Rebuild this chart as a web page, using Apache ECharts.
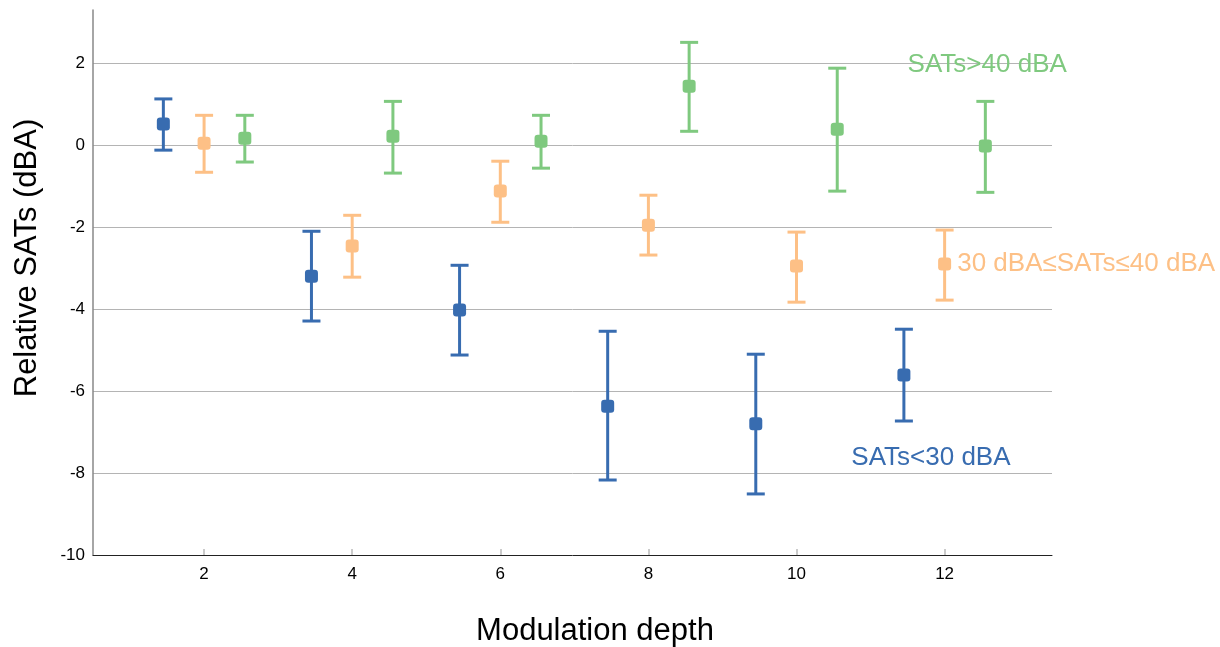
<!DOCTYPE html>
<html>
<head>
<meta charset="utf-8">
<style>
  html, body { margin: 0; padding: 0; background: #fff; }
  #chart { width: 1220px; height: 647px; }
</style>
<script src="https://cdn.jsdelivr.net/npm/echarts@6/dist/echarts.min.js"></script>
</head>
<body>
<div id="chart"></div>
<script>
// Modulation depths tested
const depths = [2, 4, 6, 8, 10, 12];
const depthTicks = [2, 4, 6, 8, 10, 12];

// SATs < 30 dBA: mean and interval bounds (dBA)
const lowMean  = [0.52, -3.20, -4.02, -6.37, -6.80, -5.61];
const lowLower = [-0.12, -4.29, -5.12, -8.17, -8.51, -6.73];
const lowUpper = [1.13, -2.10, -2.93, -4.54, -5.10, -4.49];

// 30 dBA <= SATs <= 40 dBA
const midMean  = [0.05, -2.46, -1.12, -1.95, -2.95, -2.90];
const midLower = [-0.66, -3.22, -1.88, -2.68, -3.83, -3.78];
const midUpper = [0.73, -1.71, -0.39, -1.22, -2.12, -2.07];

// SATs > 40 dBA
const highMean  = [0.17, 0.22, 0.10, 1.44, 0.39, -0.02];
const highLower = [-0.41, -0.68, -0.56, 0.34, -1.12, -1.15];
const highUpper = [0.73, 1.07, 0.73, 2.51, 1.88, 1.07];

// Group names and where their labels sit (data coordinates)
const groupNames = ['SATs<30 dBA', '30 dBA\u2264SATs\u226440 dBA', 'SATs>40 dBA'];
const labelAnchors = [[10.74, -7.62], [12.17, -2.90], [11.50, 1.96]];

const xTitle = 'Modulation depth';
const yTitle = 'Relative SATs (dBA)';

const colors = ['#386cb0', '#fdc086', '#7fc97f'];
const groupShift = [-0.55, 0, 0.55];
const FONT = '"Liberation Sans", Arial, sans-serif';

const groups = [
  { mean: lowMean, lower: lowLower, upper: lowUpper },
  { mean: midMean, lower: midLower, upper: midUpper },
  { mean: highMean, lower: highLower, upper: highUpper }
];

const series = [];
groups.forEach((g, gi) => {
  const xs = depths.map(d => d + groupShift[gi]);
  // whiskers with caps
  series.push({
    type: 'custom',
    name: groupNames[gi] + ' range',
    data: xs.map((x, i) => [x, g.lower[i], g.upper[i]]),
    encode: { x: 0, y: [1, 2] },
    z: 2,
    renderItem: function (params, api) {
      const x = api.value(0);
      const lo = api.coord([x, api.value(1)]);
      const hi = api.coord([x, api.value(2)]);
      const half = 9;
      const style = { stroke: colors[gi], lineWidth: 3, fill: null };
      return {
        type: 'group',
        children: [
          { type: 'line', shape: { x1: hi[0], y1: hi[1], x2: lo[0], y2: lo[1] }, style: style },
          { type: 'line', shape: { x1: hi[0] - half, y1: hi[1], x2: hi[0] + half, y2: hi[1] }, style: style },
          { type: 'line', shape: { x1: lo[0] - half, y1: lo[1], x2: lo[0] + half, y2: lo[1] }, style: style }
        ]
      };
    }
  });
  // mean markers, plus the group name
  series.push({
    type: 'scatter',
    name: groupNames[gi],
    data: xs.map((x, i) => [x, g.mean[i]]),
    symbol: 'roundRect',
    symbolSize: 13,
    itemStyle: { color: colors[gi], opacity: 1 },
    z: 3,
    markPoint: {
      symbol: 'circle',
      symbolSize: 0,
      data: [{ coord: labelAnchors[gi] }],
      label: {
        show: true,
        position: 'right',
        distance: 0,
        formatter: groupNames[gi],
        color: colors[gi],
        fontFamily: FONT,
        fontSize: 26
      }
    }
  });
});

const chart = echarts.init(document.getElementById('chart'), null, { renderer: 'canvas' });
chart.setOption({
  animation: false,
  backgroundColor: '#ffffff',
  grid: { left: 93, right: 168, top: 10, bottom: 92, containLabel: false, outerBoundsMode: 'none' },
  graphic: [
    {
      type: 'text', x: 595, y: 631,
      style: { text: xTitle, font: '31px ' + FONT, fill: '#000', textAlign: 'center', textVerticalAlign: 'middle' }
    },
    {
      type: 'text', x: 27, y: 258, rotation: Math.PI / 2,
      style: { text: yTitle, font: '31px ' + FONT, fill: '#000', textAlign: 'center', textVerticalAlign: 'middle' }
    }
  ],
  xAxis: {
    type: 'value',
    min: 0.5,
    max: 13.45,
    axisLine: { show: true, onZero: false, lineStyle: { color: '#222', width: 1 } },
    axisTick: { show: true, inside: true, length: 6, lineStyle: { color: '#bbb', width: 1.5 }, customValues: depthTicks },
    axisLabel: { fontFamily: FONT, fontSize: 17, color: '#000', margin: 11, customValues: depthTicks },
    splitLine: { show: false }
  },
  yAxis: {
    type: 'value',
    min: -10,
    max: 3.3,
    interval: 2,
    axisLine: { show: true, onZero: false, lineStyle: { color: '#888', width: 1.5 } },
    axisTick: { show: false },
    axisLabel: { fontFamily: FONT, fontSize: 17, color: '#000', margin: 8, showMaxLabel: false },
    splitLine: { show: true, showMinLine: false, showMaxLine: false, lineStyle: { color: '#b4b4b4', width: 1 } }
  },
  series: series
});
</script>
</body>
</html>
